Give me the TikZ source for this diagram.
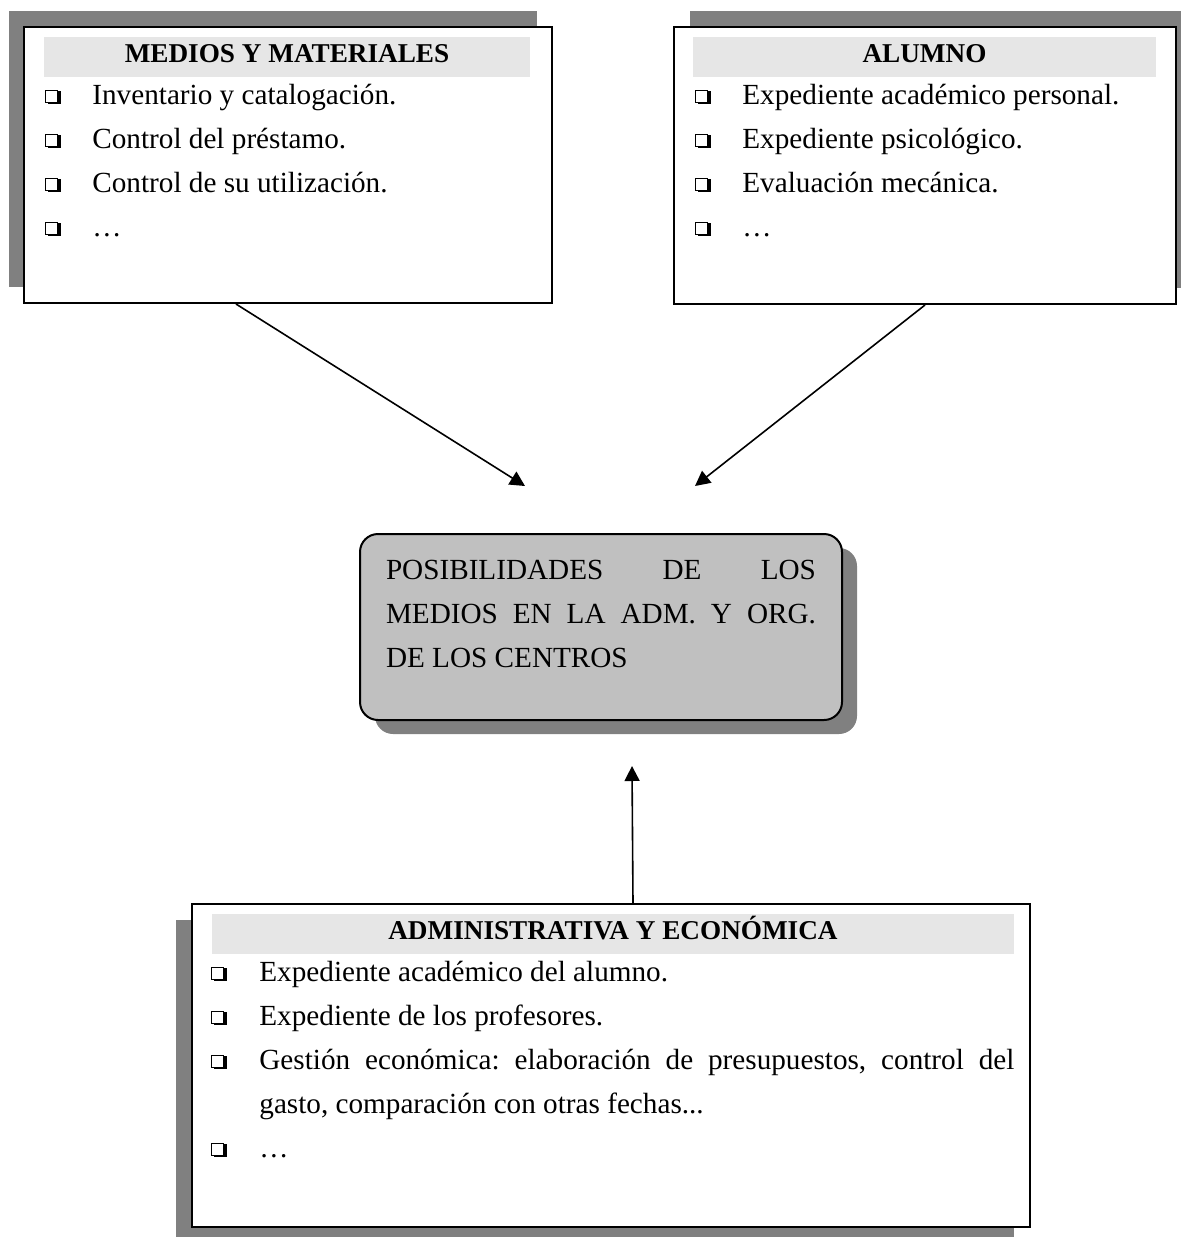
\documentclass[tikz,border=0pt]{standalone}
\usepackage{fontspec}
\setmainfont{Liberation Serif}
\usetikzlibrary{arrows.meta,shadows}
\frenchspacing
\definecolor{shadowgray}{HTML}{808080}
\definecolor{bandgray}{HTML}{E6E6E6}
\definecolor{centergray}{HTML}{C0C0C0}
\tikzset{>={Triangle[length=7.5pt,width=7.5pt]}}
\tikzset{
    panel/.style={draw, line width=1pt, fill=white, inner sep=0pt, anchor=north west},
    shadowed/.style 2 args={drop shadow={shadow xshift=#1, shadow yshift=#2, fill=shadowgray, opacity=1}},
    band/.style={fill=bandgray, inner sep=0pt, text height=12.5pt, text depth=7.5pt, font=\fontsize{13.6}{22}\selectfont\bfseries},
    items/.style={inner sep=0pt, anchor=base west},
    link/.style={->, line width=0.8pt}
}
\newcommand{\chk}{\leavevmode{\setlength{\fboxsep}{0pt}\setlength{\fboxrule}{0.5pt}%
    \rlap{\hspace{1.1pt}\rule{6.5pt}{6.5pt}}\raisebox{1.1pt}{\fcolorbox{black}{white}{\rule{0pt}{5.5pt}\hspace{5.5pt}}}}}

\begin{document}
\begin{tikzpicture}[x=0.5pt, y=-0.5pt, font=\fontsize{14.6}{22}\selectfont]
    \useasboundingbox (0,0) rectangle (1180,1237);

    \node[panel, minimum width=264pt, minimum height=138pt, shadowed={-7.5pt}{8pt}] (medios) at (23,26) {};
    \node[band, minimum width=243pt] (medios-title) at (287,57) {MEDIOS Y MATERIALES};
    \node[items] (medios-list) at (45,104) {\begin{tabular}[t]{@{}p{23.5pt}@{}l@{}}
        \chk & Inventario y catalogación.\\
        \chk & Control del préstamo.\\
        \chk & Control de su utilización.\\
        \chk & …
    \end{tabular}};

    \node[panel, minimum width=251pt, minimum height=138.5pt, shadowed={8pt}{8pt}] (alumno) at (673,26) {};
    \node[band, minimum width=231.5pt] (alumno-title) at (924.5,57) {ALUMNO};
    \node[items] (alumno-list) at (695,104) {\begin{tabular}[t]{@{}p{23.5pt}@{}l@{}}
        \chk & Expediente académico personal.\\
        \chk & Expediente psicológico.\\
        \chk & Evaluación mecánica.\\
        \chk & …
    \end{tabular}};

    \node[panel, fill=centergray, rounded corners=9pt, text width=215pt, inner xsep=13pt, text height=22.5pt, text depth=70.5pt, align=justify, shadowed={7.5pt}{-7pt}] (centro) at (359,533) {POSIBILIDADES DE LOS\linebreak MEDIOS EN LA ADM. Y ORG.\linebreak DE LOS CENTROS};

    \node[panel, minimum width=419pt, minimum height=161.5pt, shadowed={-8pt}{-8pt}] (admin) at (191,903) {};
    \node[band, minimum width=401pt] (admin-title) at (613,934) {ADMINISTRATIVA Y ECONÓMICA};
    \node[items] (admin-list) at (211,981) {\begin{tabular}[t]{@{}p{24pt}@{}p{377.5pt}@{}}
        \chk & Expediente académico del alumno.\\
        \chk & Expediente de los profesores.\\
        \chk & Gestión económica: elaboración de presupuestos, control del\linebreak gasto, comparación con otras fechas...\\
        \chk & …
    \end{tabular}};

    \coordinate (tipL) at (525,486);
    \coordinate (tipR) at (695,486);
    \coordinate (tipU) at (632,766);
    \draw[link] ([xshift=-26pt]medios.south) -- (tipL);
    \draw[link] (alumno.south) -- (tipR);
    \draw[link] ([xshift=11pt]admin.north) -- (tipU);
\end{tikzpicture}
\end{document}
